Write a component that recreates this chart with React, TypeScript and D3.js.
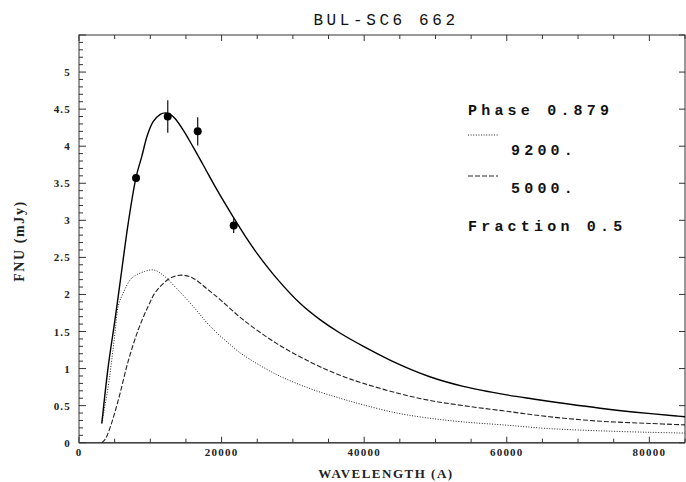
import React from "react";
import { scaleLinear, line, curveCatmullRom, range } from "d3";

// wavelength (A), FNU (mJy)
const totalCurve: [number, number][] = [
  [3200, 0.26], [4100, 1.03], [5050, 1.66], [6000, 2.33], [6900, 2.96], [8000, 3.58],
  [8800, 3.86], [9600, 4.15], [10400, 4.33], [11400, 4.43], [12100, 4.45], [12800, 4.43],
  [13500, 4.37], [14600, 4.22], [16000, 3.99], [17400, 3.75], [19300, 3.42], [21600, 3.05],
  [23500, 2.76], [25150, 2.53], [27700, 2.22], [31000, 1.88], [33800, 1.66], [36600, 1.48],
  [39900, 1.3], [44600, 1.07], [49200, 0.89], [53900, 0.76], [60000, 0.645], [63700, 0.59],
  [68400, 0.525], [73100, 0.465], [77700, 0.415], [83800, 0.36], [85000, 0.35],
];

const hotCurve: [number, number][] = [
  [3200, 0.26], [4100, 0.76], [4600, 1.12], [5050, 1.48], [5500, 1.84], [6200, 2.02],
  [7400, 2.22], [9200, 2.31], [10500, 2.33], [11800, 2.26], [13700, 2.08], [16000, 1.84],
  [18400, 1.57], [21600, 1.29], [23000, 1.185], [27700, 0.92], [32400, 0.73], [36600, 0.6],
  [39900, 0.51], [44600, 0.4], [49200, 0.33], [53900, 0.28], [59500, 0.24], [66000, 0.19],
  [73100, 0.16], [80000, 0.14], [85000, 0.13],
];

const coolCurve: [number, number][] = [
  [3200, 0.0], [3700, 0.05], [4350, 0.2], [5500, 0.57], [6900, 1.1], [8300, 1.52],
  [9700, 1.84], [10800, 2.04], [12800, 2.22], [14400, 2.26], [16000, 2.22], [17900, 2.08],
  [19800, 1.93], [23000, 1.66], [27700, 1.34], [32400, 1.09], [36600, 0.91], [39900, 0.8],
  [44600, 0.67], [49200, 0.57], [53900, 0.5], [59500, 0.43], [66000, 0.35], [73100, 0.29],
  [80000, 0.26], [85000, 0.24],
];

// observed photometry: wavelength, flux, error
const obsWave = [8000, 12450, 16650, 21700];
const obsFlux = [3.57, 4.4, 4.2, 2.93];
const obsErr = [0.03, 0.22, 0.19, 0.1];

const xTickLabels = [0, 20000, 40000, 60000, 80000];
const yTickLabels = [0, 0.5, 1, 1.5, 2, 2.5, 3, 3.5, 4, 4.5, 5];

const title = "BUL-SC6 662";
const legendLines = ["Phase 0.879", "9200.", "5000.", "Fraction 0.5"];

export default function App() {
  const x = scaleLinear().domain([0, 85000]).range([79, 685]);
  const y = scaleLinear().domain([0, 5.5]).range([442.7, 35]);
  const path = line<[number, number]>()
    .x((d) => x(d[0]))
    .y((d) => y(d[1]))
    .curve(curveCatmullRom.alpha(0.5));

  const [x0, x1] = x.range();
  const [y0, y1] = y.range();
  const tickFont = { fontFamily: "Liberation Serif", fontSize: 11, fontWeight: "bold", fill: "#222", letterSpacing: 1.2 };
  const monoFont = { fontFamily: "Liberation Mono", fontSize: 16, fill: "#111" };

  return (
    <svg width={686} height={482} style={{ position: "absolute", left: 0, top: 0, background: "#fff" }}>
      {/* frame */}
      <rect x={x0} y={y1} width={x1 - x0} height={y0 - y1} fill="none" stroke="#333" strokeWidth={1} />
      <line x1={x0} x2={x1} y1={y0} y2={y0} stroke="#444" strokeWidth={1.6} />
      {/* x ticks, bottom and top */}
      {range(0, 85001, 5000).map((v) => {
        const major = v % 20000 === 0;
        return (
          <g key={"xt" + v} stroke="#333" strokeWidth={1}>
            <line x1={x(v)} x2={x(v)} y1={y0} y2={y0 - (major ? 6 : 4)} />
            <line x1={x(v)} x2={x(v)} y1={y1} y2={y1 + (major ? 6 : 4)} />
          </g>
        );
      })}
      {/* y ticks */}
      {range(0, 56).map((i) => {
        const v = i / 10;
        const major = i % 5 === 0;
        return (
          <g key={"yt" + i} stroke="#333" strokeWidth={1}>
            <line x1={x0} x2={x0 + (major ? 7 : 4)} y1={y(v)} y2={y(v)} />
            {major && <line x1={x1} x2={x1 - 6} y1={y(v)} y2={y(v)} />}
          </g>
        );
      })}
      {xTickLabels.map((v) => (
        <text key={"xl" + v} x={x(v)} y={456} textAnchor="middle" {...tickFont}>
          {v}
        </text>
      ))}
      {yTickLabels.map((v) => (
        <text key={"yl" + v} x={71} y={y(v) + 4} textAnchor="end" {...tickFont}>
          {v}
        </text>
      ))}
      {/* axis titles */}
      <text x={386} y={478} textAnchor="middle" fontFamily="Liberation Serif" fontSize={13} fontWeight="bold" letterSpacing={1.5} fill="#222">
        WAVELENGTH (A)
      </text>
      <text transform="translate(24,241) rotate(-90)" textAnchor="middle" fontFamily="Liberation Serif" fontSize={14} fontWeight="bold" letterSpacing={1.6} fill="#222">
        FNU (mJy)
      </text>
      <text x={386} y={25} textAnchor="middle" {...monoFont} letterSpacing={3.6}>
        {title}
      </text>

      {/* model curves */}
      <path d={path(hotCurve) || ""} fill="none" stroke="#222" strokeWidth={1} strokeDasharray="1,1.6" />
      <path d={path(coolCurve) || ""} fill="none" stroke="#222" strokeWidth={1.1} strokeDasharray="5,2" />
      <path d={path(totalCurve) || ""} fill="none" stroke="#000" strokeWidth={1.4} />

      {/* data points */}
      {obsWave.map((w, i) => (
        <g key={"pt" + i}>
          <line x1={x(w)} x2={x(w)} y1={y(obsFlux[i] - obsErr[i])} y2={y(obsFlux[i] + obsErr[i])} stroke="#111" strokeWidth={1.2} />
          <circle cx={x(w)} cy={y(obsFlux[i])} r={4} fill="#000" />
        </g>
      ))}

      {/* legend */}
      <g {...monoFont} fontSize={15} fontWeight="bold" letterSpacing={4.2}>
        <text x={468} y={115}>{legendLines[0]}</text>
        <line x1={468} x2={498} y1={135} y2={135} stroke="#222" strokeWidth={1} strokeDasharray="1,1.6" />
        <text x={511} y={155}>{legendLines[1]}</text>
        <line x1={468} x2={498} y1={176} y2={176} stroke="#222" strokeWidth={1.1} strokeDasharray="5,2" />
        <text x={511} y={193}>{legendLines[2]}</text>
        <text x={468} y={231}>{legendLines[3]}</text>
      </g>
    </svg>
  );
}
